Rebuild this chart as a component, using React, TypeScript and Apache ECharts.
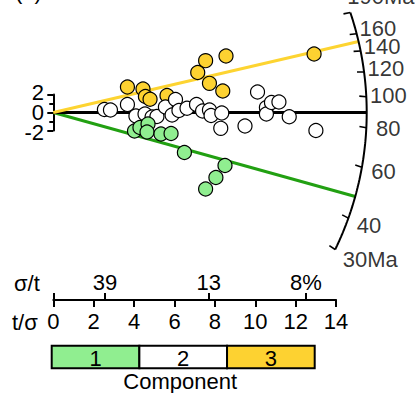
import React, { useEffect, useRef } from "react";
import * as echarts from "echarts";

// ---------- data ----------
const componentNames = ["1", "2", "3"];
const componentAges = [47.8, 89.3, 150.6]; // Ma
const centralAge = 89.3; // Ma, reference (horizontal) direction
const arcTickAges = [30, 40, 60, 80, 100, 120, 140, 160, 190];
const tOverSigmaTicks = [0, 2, 4, 6, 8, 10, 12, 14];
const sigmaOverTPercent = [39, 13, 8];
const sigmaOverTLabels = ["39", "13", "8%"];
const standardTicks = [-2, 0, 2];

// grains: [t/σ, standardised estimate]
const comp1Points = [
  [4.02, -2.06], [4.29, -1.67], [4.69, -1.28], [4.64, -2.17], [5.33, -2.39],
  [5.83, -2.33], [6.49, -4.44], [8.5, -5.89], [8.05, -7.22], [7.54, -8.5],
];
const comp2Points = [
  [2.53, 0.33], [2.83, 0.28], [3.67, 0.89], [4.09, -0.39], [4.54, -0.17],
  [4.89, -0.5], [5.13, -0.44], [5.55, 0.61], [5.88, -0.28], [6.05, 1.44],
  [6.22, 0.22], [6.62, 0.47], [7.09, 0.89], [7.39, 0.17], [7.73, 0.28],
  [7.81, -0.33], [8.34, -0.06], [8.29, -1.76], [9.49, -1.5], [10.11, 2.28],
  [10.55, 0.56], [10.55, -0.17], [10.8, 1.11], [11.17, 1.17], [11.68, -0.47],
  [13.0, -2.0],
];
const comp3Points = [
  [3.67, 2.83], [4.44, 2.61], [4.56, 1.78], [4.79, 1.47], [5.63, 1.89],
  [7.54, 5.76], [8.55, 6.28], [7.15, 4.44], [7.73, 3.24], [8.39, 2.39],
  [12.91, 6.5],
];

// ---------- styling / geometry ----------
const FONT = "'Liberation Sans', Arial, Helvetica, sans-serif";
const FS = 22;
const fills = ["#90EE90", "#FFFFFF", "#FDD231"];
const lineColors = ["#22A012", "#000000", "#FDD431"];

const ORIGIN_X = 53.3;
const ORIGIN_Y = 112.5;
const KX = 20.2; // px per t/σ unit
const KY = 9; // px per standardised unit
const X_MAX = 16;
const Y_MIN = -20;
const Y_MAX = 12;
const R = 313.4; // arc radius (px)

const theta = (age: number) => Math.atan((KY / KX) * Math.log(age / centralAge));
const polar = (r: number, th: number) => [(r * Math.cos(th)) / KX, (r * Math.sin(th)) / KY];

export default function App() {
  const ref = useRef<HTMLDivElement>(null);

  useEffect(() => {
    if (!ref.current) return;
    const chart = echarts.init(ref.current, null, { renderer: "svg" });

    const thMin = theta(arcTickAges[0]);
    const thMax = theta(arcTickAges[arcTickAges.length - 1]);
    const arc: number[][] = [];
    const N = 160;
    for (let i = 0; i <= N; i++) arc.push(polar(R, thMin + ((thMax - thMin) * i) / N));

    const tickLines = arcTickAges.map((a) => {
      const th = theta(a);
      const phi = th - (8 * Math.PI) / 180;
      const p = [R * Math.cos(th), R * Math.sin(th)];
      const q = [p[0] - 7 * Math.cos(phi), p[1] - 7 * Math.sin(phi)];
      return { coords: [[p[0] / KX, p[1] / KY], [q[0] / KX, q[1] / KY]] };
    });

    const labelData = arcTickAges.map((a, i) => {
      const th = theta(a);
      const pos = polar(R + 22, th);
      const txt = String(a);
      const halfW = (txt.length * 0.556 * FS) / 2;
      if (i === 0) {
        return {
          name: txt + "Ma",
          value: pos,
          label: { position: [-halfW, 0], align: "left", verticalAlign: "middle" },
        };
      }
      if (i === arcTickAges.length - 1) {
        return {
          name: txt + "Ma",
          value: pos,
          label: { position: [-24, -9], align: "left", verticalAlign: "middle" },
        };
      }
      return { name: txt, value: pos };
    });

    const rays = componentAges.map((a, i) => ({
      coords: [[0, 0], polar(R, theta(a))],
      lineStyle: { color: lineColors[i], width: 3, opacity: 1 },
    }));

    const sigmaPos = sigmaOverTPercent.map((p) => 100 / p);

    const pointSeries = [2, 1, 0].map((ci) => ({
      type: "scatter",
      xAxisIndex: 0,
      yAxisIndex: 0,
      data: [comp1Points, comp2Points, comp3Points][ci],
      symbolSize: 14,
      clip: false,
      silent: true,
      z: 5,
      itemStyle: { color: fills[ci], borderColor: "#000", borderWidth: 1.2, opacity: 1 },
    }));

    const barX = 51.7;
    const barY = 345.7;
    const barW = 263;
    const barH = 22.6;
    const cellW = barW / componentNames.length;

    const textStyle = (text: string, x: number, y: number, align = "left") => ({
      type: "text",
      x,
      y,
      silent: true,
      style: { text, fill: "#000", font: `${FS}px ${FONT}`, align, verticalAlign: "middle" },
    });

    chart.setOption({
      animation: false,
      backgroundColor: "#fff",
      grid: [
        { left: ORIGIN_X, top: ORIGIN_Y - Y_MAX * KY, width: X_MAX * KX, height: (Y_MAX - Y_MIN) * KY, containLabel: false, outerBoundsMode: "none" },
        { left: ORIGIN_X, top: 290, width: 14 * KX, height: 10, containLabel: false, outerBoundsMode: "none" },
        { left: ORIGIN_X, top: ORIGIN_Y - 2 * KY, width: 10, height: 4 * KY, containLabel: false, outerBoundsMode: "none" },
      ],
      xAxis: [
        { type: "value", gridIndex: 0, min: 0, max: X_MAX, show: false },
        {
          type: "value",
          gridIndex: 1,
          position: "bottom",
          min: tOverSigmaTicks[0],
          max: tOverSigmaTicks[tOverSigmaTicks.length - 1],
          interval: 2,
          axisLine: { show: true, lineStyle: { color: "#000", width: 2 } },
          axisTick: { show: true, length: 7, lineStyle: { color: "#000", width: 2 } },
          axisLabel: { color: "#000", fontSize: FS, fontFamily: FONT, margin: 10, showMinLabel: true, showMaxLabel: true },
          splitLine: { show: false },
        },
        {
          type: "value",
          gridIndex: 1,
          position: "bottom",
          min: tOverSigmaTicks[0],
          max: tOverSigmaTicks[tOverSigmaTicks.length - 1],
          axisLine: { show: false },
          axisTick: { show: true, inside: true, length: 7, customValues: [0, ...sigmaPos], lineStyle: { color: "#000", width: 2 } },
          axisLabel: {
            show: true,
            inside: true,
            margin: 7,
            customValues: sigmaPos,
            color: "#000",
            fontSize: FS,
            fontFamily: FONT,
            formatter: (v: number) => {
              const i = sigmaPos.findIndex((p) => Math.abs(p - v) < 1e-6);
              return i >= 0 ? sigmaOverTLabels[i] : "";
            },
          },
          splitLine: { show: false },
        },
        { type: "value", gridIndex: 2, min: 0, max: 1, show: false },
      ],
      yAxis: [
        { type: "value", gridIndex: 0, min: Y_MIN, max: Y_MAX, show: false },
        { type: "value", gridIndex: 1, min: 0, max: 1, show: false },
        {
          type: "value",
          gridIndex: 2,
          position: "left",
          min: standardTicks[0],
          max: standardTicks[standardTicks.length - 1],
          interval: 2,
          axisLine: { show: true, lineStyle: { color: "#000", width: 2 } },
          axisTick: { show: true, length: 6, lineStyle: { color: "#000", width: 2 } },
          minorTick: { show: true, splitNumber: 2, length: 4, lineStyle: { color: "#000", width: 2 } },
          axisLabel: { show: false },
          splitLine: { show: false },
        },
      ],
      series: [
        {
          type: "lines",
          coordinateSystem: "cartesian2d",
          xAxisIndex: 0,
          yAxisIndex: 0,
          data: rays,
          silent: true,
          z: 2,
        },
        {
          type: "line",
          xAxisIndex: 0,
          yAxisIndex: 0,
          data: arc,
          showSymbol: false,
          symbol: "none",
          clip: false,
          silent: true,
          lineStyle: { color: "#000", width: 2 },
          z: 3,
        },
        {
          type: "lines",
          coordinateSystem: "cartesian2d",
          xAxisIndex: 0,
          yAxisIndex: 0,
          data: tickLines,
          silent: true,
          lineStyle: { color: "#000", width: 1.6, opacity: 1 },
          z: 3,
        },
        {
          type: "scatter",
          xAxisIndex: 0,
          yAxisIndex: 0,
          data: labelData,
          symbolSize: 0,
          clip: false,
          silent: true,
          z: 3,
          labelLayout: { hideOverlap: false },
          label: {
            show: true,
            position: "inside",
            formatter: (p: any) => p.name,
            color: "#000",
            fontSize: FS,
            fontFamily: FONT,
            lineHeight: 18,
          },
        },
        ...pointSeries,
      ],
      graphic: [
        textStyle("(a)", 15, -9),
        textStyle("σ/t", 14, 283),
        textStyle("t/σ", 12, 322),
        ...standardTicks.map((v) => textStyle(String(v), 44, ORIGIN_Y - v * 10, "right")),
        ...componentNames.map((n, i) => ({
          type: "rect",
          silent: true,
          shape: { x: barX + i * cellW, y: barY, width: cellW, height: barH },
          style: { fill: fills[i], stroke: "#000", lineWidth: 2 },
        })),
        ...componentNames.map((n, i) => textStyle(n, barX + (i + 0.5) * cellW, barY + barH / 2 + 1, "center")),
        textStyle("Component", barX + barW / 2 - 3, 381.5, "center"),
      ],
    });

    return () => chart.dispose();
  }, []);

  return (
    <div
      ref={ref}
      style={{ position: "absolute", left: 0, top: 0, width: 416, height: 393 }}
    />
  );
}
